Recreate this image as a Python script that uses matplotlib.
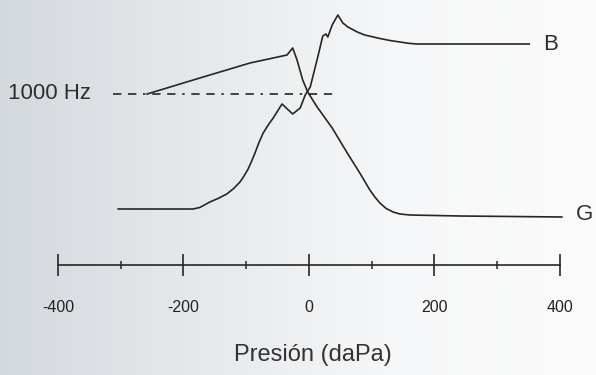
import numpy as np
import matplotlib.pyplot as plt

plt.rcParams['font.family'] = ['Liberation Sans', 'DejaVu Sans']

# Pressure axis (daPa)
ticks_major = [-400, -200, 0, 200, 400]
ticks_minor = [-300, -100, 100, 300]
tick_labels = ['-400', '-200', '0', '200', '400']

# Curve ending at "B" (starts low on the left, peaks just after 0)
b_press = [-304, -185, -174, -158, -145, -131, -120, -110, -104, -97, -92, -86,
           -80, -73, -65, -57, -51, -43, -26, -14, -6,
           2, 14, 22, 27, 30, 37, 46, 54, 62, 77, 89, 113, 129, 145, 158, 172, 351]
b_val = [2.24, 2.24, 2.30, 2.52, 2.66, 2.84, 3.06, 3.32, 3.54, 3.84, 4.12, 4.48,
         4.88, 5.28, 5.60, 5.88, 6.12, 6.44, 6.04, 6.28, 6.80,
         7.12, 8.32, 9.16, 9.24, 9.12, 9.60, 10.0, 9.68, 9.52, 9.32, 9.20, 9.06,
         8.98, 8.92, 8.87, 8.84, 8.84]

# Curve ending at "G" (starts at the 1000 Hz line, peaks just before 0)
g_press = [-258, -174, -94, -35, -26, -19, -10, -2, 13, 37, 61, 81, 97, 105,
           113, 123, 134, 145, 161, 241, 403]
g_val = [6.84, 7.48, 8.08, 8.40, 8.68, 8.20, 7.40, 6.92, 6.32, 5.48, 4.48, 3.68,
         3.00, 2.72, 2.48, 2.26, 2.12, 2.04, 2.00, 1.96, 1.92]

# 1000 Hz reference line
ref_press = [-312, 46]
ref_val = 6.85

ink = '#262626'

fig = plt.figure(figsize=(5.96, 3.75), dpi=100)
ax = fig.add_axes([0, 0, 1, 1])
ax.set_xlim(-492.4, 457.4)
ax.set_ylim(-4.4, 10.6)

# scanned-paper background, greyish on the left
grad = np.linspace(0, 1, 256).reshape(1, -1)
ax.imshow(grad, extent=[0, 1, 0, 1], transform=ax.transAxes, aspect='auto',
          cmap=plt.matplotlib.colors.LinearSegmentedColormap.from_list(
              'paper', ['#d4d9de', '#e6e9ec', '#f6f7f8', '#fbfbfb']),
          zorder=0)

ax.plot(b_press, b_val, color=ink, lw=1.2, zorder=3)
ax.plot(g_press, g_val, color=ink, lw=1.2, zorder=3)
ax.plot(ref_press, [ref_val, ref_val], color=ink, lw=1.2,
        dashes=(5, 4, 5, 4, 1.5, 4), zorder=2)

ax.text(-492.4 + 8 * 1.5936, ref_val, '1000 Hz', fontsize=16, color='#2e2e2e',
        va='center', ha='left')
ax.text(b_press[-1] + 22, b_val[-1], 'B', fontsize=16, color='#2e2e2e',
        va='center', ha='left')
ax.text(g_press[-1] + 22, g_val[-1] + 0.1, 'G', fontsize=16, color='#2e2e2e',
        va='center', ha='left')

# pressure axis drawn as the bottom spine placed at y = 0
for side in ['top', 'right', 'left']:
    ax.spines[side].set_visible(False)
ax.spines['bottom'].set_position(('data', 0))
ax.spines['bottom'].set_bounds(-400, 400)
ax.spines['bottom'].set_color(ink)
ax.spines['bottom'].set_linewidth(1.2)
ax.set_xticks(ticks_major)
ax.set_xticklabels(tick_labels)
ax.set_xticks(ticks_minor, minor=True)
ax.tick_params(axis='x', which='major', direction='inout', length=16, width=1.2,
               color=ink, pad=17, labelsize=11.5, labelcolor='#222222')
ax.tick_params(axis='x', which='minor', direction='inout', length=6, width=1.1,
               color=ink)
ax.set_yticks([])

ax.text(6, -3.6, 'Presión (daPa)', fontsize=17, color='#333333',
        ha='center', va='center')

plt.savefig('out.png', dpi=100)
